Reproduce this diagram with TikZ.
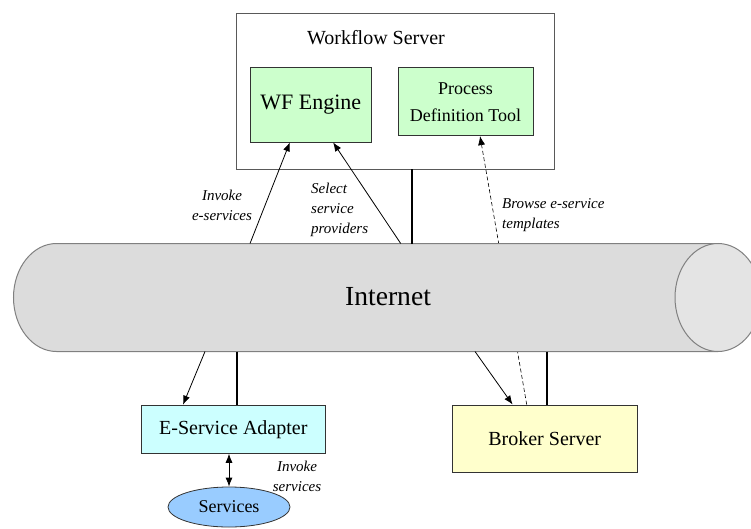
\documentclass[tikz,border=0pt]{standalone}
\usepackage{fontspec}
\setmainfont{LiberationSerif}[Extension=.ttf,UprightFont=*-Regular,ItalicFont=*-Italic,BoldFont=*-Bold,BoldItalicFont=*-BoldItalic]
\usetikzlibrary{shapes.geometric,arrows.meta,calc}
\definecolor{wfgreen}{HTML}{CCFFCC}
\definecolor{adcyan}{HTML}{CCFFFF}
\definecolor{brkyellow}{HTML}{FFFFCC}
\definecolor{svblue}{HTML}{99CCFF}
\definecolor{cylbody}{HTML}{DCDCDC}
\definecolor{cylcap}{HTML}{E4E4E4}
\definecolor{cylline}{HTML}{808080}
\begin{document}
\begin{tikzpicture}[x=1pt,y=-1pt,font=\rmfamily,
  box/.style={draw=black!80,line width=0.8pt,inner sep=0pt,align=center},
  lbl/.style={font=\fontsize{15}{20}\selectfont\itshape,inner sep=0pt},
  arr/.style={line width=0.8pt,-{Latex[length=9pt,width=7pt]}},
  thick line/.style={line width=2pt}]
\useasboundingbox (0,0) rectangle (751,529);
\clip (0,0) rectangle (751,529);

% nodes
\node[box,draw=black!65,minimum width=317.3pt,minimum height=155.7pt] (ws) at (395.3,91.2) {};
\node[inner sep=0pt,font=\fontsize{20}{24}\selectfont] (wsl) at (376,38) {Workflow Server};
\node[box,fill=wfgreen,minimum width=121.7pt,minimum height=74.3pt,font=\fontsize{22}{26}\selectfont] (wfe) at (310.8,104.8) {WF Engine};
\node[box,fill=wfgreen,minimum width=135pt,minimum height=68pt,font=\fontsize{18}{27}\selectfont] (pdt) at (465.5,101.7) {Process\\Definition Tool};
\node[box,fill=adcyan,minimum width=183.3pt,minimum height=48.3pt,font=\fontsize{20}{24}\selectfont] (ad) at (233.3,429.2) {E-Service Adapter};
\node[box,fill=brkyellow,minimum width=184.7pt,minimum height=67.7pt,font=\fontsize{20}{24}\selectfont] (brk) at (544.7,438.8) {Broker Server};
\node[ellipse,draw=black!80,line width=0.8pt,fill=svblue,inner sep=0pt,minimum width=122pt,minimum height=40pt,font=\fontsize{18}{22}\selectfont] (sv) at (229,507) {Services};

% dashed arrow (behind the cylinder)
\draw[line width=0.6pt,dash pattern=on 4pt off 2.5pt,-{Latex[length=9pt,width=7pt]}]
  ($(brk.north west)!0.403!(brk.north east)$) -- ($(pdt.south west)!0.607!(pdt.south east)$);

% cylinder
\fill[cylbody] (56.5,243.5) -- (718,243.5) -- (718,351.5) -- (56.5,351.5)
  arc[start angle=270,end angle=90,x radius=43pt,y radius=54pt] -- cycle;
\draw[cylline,line width=1pt] (718,243.5) -- (56.5,243.5)
  arc[start angle=90,end angle=270,x radius=43pt,y radius=54pt] -- (718,351.5);
\draw[cylline,line width=1pt,fill=cylcap] (718,297.5) ellipse[x radius=43pt,y radius=54pt];
\node[inner sep=0pt,font=\fontsize{27.6}{32}\selectfont] (inet) at (388,297) {Internet};

% coordinates on the cylinder
\coordinate (t1) at (250,243.5);
\coordinate (t2) at (400.7,243.5);
\coordinate (t3) at (411.7,243.5);
\coordinate (b1) at (205,351.5);
\coordinate (b2) at (236.7,351.5);
\coordinate (b3) at (475,351.5);
\coordinate (b4) at (546.7,351.5);

% connectors
\draw[arr] (t1) -- ($(wfe.south west)!0.329!(wfe.south east)$);
\draw[arr] (t2) -- ($(wfe.south west)!0.682!(wfe.south east)$);
\draw[thick line] (t3) -- (t3 |- ws.south);
\draw[arr] (b1) -- ($(ad.north west)!0.227!(ad.north east)$);
\draw[thick line] (b2) -- (b2 |- ad.north);
\draw[arr] (b3) -- ($(brk.north west)!0.327!(brk.north east)$);
\draw[thick line] (b4) -- (b4 |- brk.north);
\draw[line width=0.8pt,{Latex[length=9pt,width=7pt]}-{Latex[length=9pt,width=7pt]}] (ad.south -| sv.north) -- (sv.north);

% labels
\node[lbl,align=center] (l1) at (222,205) {Invoke\\e-services};
\node[lbl,align=left,anchor=west] (l2) at (311,210) {Select\\service\\providers};
\node[lbl,align=left,anchor=west] (l3) at (502,215) {Browse e-service\\templates};
\node[lbl,align=center] (l4) at (297,476) {Invoke\\services};
\end{tikzpicture}
\end{document}
